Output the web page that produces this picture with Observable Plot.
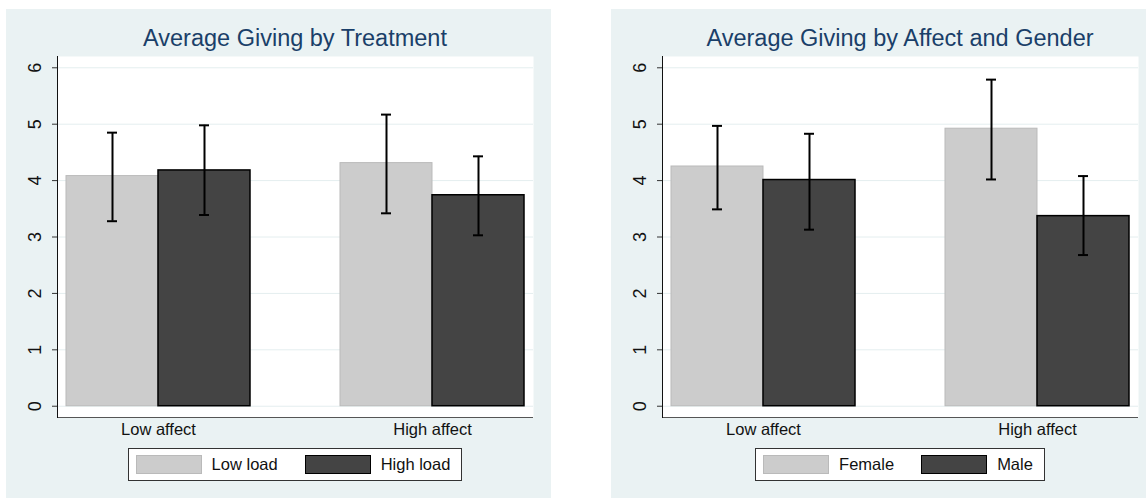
<!DOCTYPE html>
<html>
<head>
<meta charset="utf-8">
<script src="https://cdn.jsdelivr.net/npm/d3@7"></script>
<script src="https://cdn.jsdelivr.net/npm/@observablehq/plot@0.6"></script>
<style>
  html, body { margin: 0; padding: 0; background: #fff; overflow: hidden; }
  #root { position: relative; width: 1146px; height: 498px; overflow: hidden; background: #fff;
          font-family: "Liberation Sans", Arial, Helvetica, sans-serif; }
  .panel { position: absolute; top: 9px; width: 545px; height: 489px; background: #eaf2f3; }
  .panel svg { position: absolute; left: 0; top: 0; }
  .title { position: absolute; left: 51px; width: 476px; top: 18px; text-align: center;
           font-size: 23.5px; line-height: 1; color: #1a3f69; white-space: nowrap; }
  .legwrap { position: absolute; left: 51px; width: 476px; top: 439px; display: flex; justify-content: center; }
  .legend { display: flex; align-items: center; background: #fff; border: 1px solid #333;
            padding: 6px 11px 6px 7px; font-size: 16.5px; color: #111; }
  .sw { width: 64px; height: 17px; margin-right: 10px; }
  .item { display: flex; align-items: center; }
  .item + .item { margin-left: 27px; }
</style>
</head>
<body>
<div id="root"></div>
<script>
// ---- data ----
const groups = ["Low affect", "High affect"];
const yTicks = [0, 1, 2, 3, 4, 5, 6];

// Panel 1: Average Giving by Treatment
const title1 = "Average Giving by Treatment";
const series1 = ["Low load", "High load"];
const lowLoadMean = [4.08, 4.31];
const lowLoadLo   = [3.28, 3.42];
const lowLoadHi   = [4.85, 5.17];
const highLoadMean = [4.18, 3.74];
const highLoadLo   = [3.39, 3.03];
const highLoadHi   = [4.98, 4.43];

// Panel 2: Average Giving by Affect and Gender
const title2 = "Average Giving by Affect and Gender";
const series2 = ["Female", "Male"];
const femaleMean = [4.25, 4.92];
const femaleLo   = [3.49, 4.02];
const femaleHi   = [4.97, 5.79];
const maleMean = [4.01, 3.37];
const maleLo   = [3.13, 2.68];
const maleHi   = [4.83, 4.08];

// ---- styles ----
const LIGHT = "#cccccc", LIGHT_EDGE = "#bababa";
const DARK = "#444444", DARK_EDGE = "#000000";
const W = 545, H = 489, ML = 51, MR = 18, MT = 47, MB = 81;
const PI = 0.3285, PO = 0.0328;
const innerW = W - ML - MR;
const step = innerW / (groups.length - PI + 2 * PO);
const bw = step * (1 - PI);

function rows(mean, lo, hi) {
  return groups.map((g, i) => ({group: g, value: mean[i], lo: lo[i], hi: hi[i]}));
}

function makePanel(left, title, series, a, b) {
  const panel = document.createElement("div");
  panel.className = "panel";
  panel.style.left = left + "px";

  const sA = rows(...a), sB = rows(...b);
  const capHalf = 5;
  const chart = Plot.plot({
    width: W, height: H,
    marginLeft: ML, marginRight: MR, marginTop: MT, marginBottom: MB,
    style: {background: "transparent", fontFamily: "'Liberation Sans', Arial, sans-serif", fontSize: "16px", color: "#111", overflow: "visible"},
    x: {domain: groups, paddingInner: PI, paddingOuter: PO, label: null},
    y: {domain: [-0.2, 6.2], label: null},
    marks: [
      Plot.frame({fill: "#ffffff", stroke: null}),
      Plot.ruleY(yTicks, {stroke: "#e4eeef", strokeWidth: 1}),
      Plot.barY(sA, {x: "group", y: "value", insetRight: bw / 2, fill: LIGHT, stroke: LIGHT_EDGE, strokeWidth: 1}),
      Plot.barY(sB, {x: "group", y: "value", insetLeft: bw / 2, fill: DARK, stroke: DARK_EDGE, strokeWidth: 1.5}),
      Plot.ruleX(sA, {x: "group", y1: "lo", y2: "hi", dx: -bw / 4, stroke: "#000", strokeWidth: 2}),
      Plot.ruleX(sB, {x: "group", y1: "lo", y2: "hi", dx: bw / 4, stroke: "#000", strokeWidth: 2}),
      Plot.tickY(sA, {x: "group", y: "lo", insetLeft: bw / 4 - capHalf, insetRight: 3 * bw / 4 - capHalf, stroke: "#000", strokeWidth: 2}),
      Plot.tickY(sA, {x: "group", y: "hi", insetLeft: bw / 4 - capHalf, insetRight: 3 * bw / 4 - capHalf, stroke: "#000", strokeWidth: 2}),
      Plot.tickY(sB, {x: "group", y: "lo", insetLeft: 3 * bw / 4 - capHalf, insetRight: bw / 4 - capHalf, stroke: "#000", strokeWidth: 2}),
      Plot.tickY(sB, {x: "group", y: "hi", insetLeft: 3 * bw / 4 - capHalf, insetRight: bw / 4 - capHalf, stroke: "#000", strokeWidth: 2}),
      Plot.ruleY([-0.2], {stroke: "#555", strokeWidth: 1}),
      Plot.frame({anchor: "left", stroke: "#111", strokeWidth: 1}),
      Plot.axisY({ticks: yTicks, tickSize: 5, stroke: "#333", label: null, tickFormat: () => ""}),
      Plot.text(yTicks, {y: d => d, text: d => String(d), frameAnchor: "left", dx: -22, rotate: -90,
                         fontSize: 18, fill: "#111", textAnchor: "middle", lineAnchor: "middle"}),
      Plot.axisX({tickSize: 0, tickPadding: 6, fontSize: 16.5, fill: "#111", label: null})
    ]
  });
  panel.appendChild(chart);

  const t = document.createElement("div");
  t.className = "title";
  t.textContent = title;
  panel.appendChild(t);

  const lw = document.createElement("div");
  lw.className = "legwrap";
  const lg = document.createElement("div");
  lg.className = "legend";
  [[series[0], LIGHT, LIGHT_EDGE], [series[1], DARK, DARK_EDGE]].forEach(([name, fill, edge]) => {
    const it = document.createElement("div");
    it.className = "item";
    const sw = document.createElement("div");
    sw.className = "sw";
    sw.style.background = fill;
    sw.style.border = "1px solid " + edge;
    const tx = document.createElement("span");
    tx.textContent = name;
    it.appendChild(sw);
    it.appendChild(tx);
    lg.appendChild(it);
  });
  lw.appendChild(lg);
  panel.appendChild(lw);

  document.getElementById("root").appendChild(panel);
}

makePanel(6, title1, series1,
  [lowLoadMean, lowLoadLo, lowLoadHi],
  [highLoadMean, highLoadLo, highLoadHi]);
makePanel(611, title2, series2,
  [femaleMean, femaleLo, femaleHi],
  [maleMean, maleLo, maleHi]);
</script>
</body>
</html>
